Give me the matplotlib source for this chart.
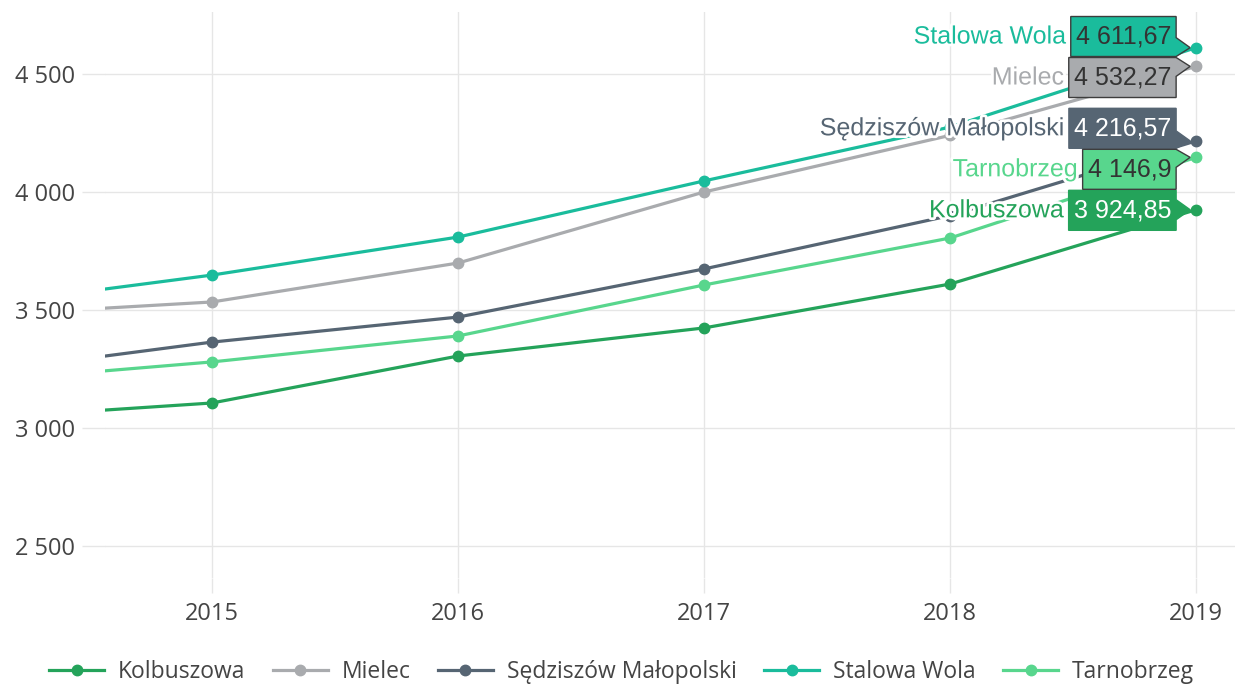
import numpy as np
import matplotlib
matplotlib.use("Agg")
import matplotlib.pyplot as plt
import matplotlib.patheffects as pe
from matplotlib.patches import Polygon
from matplotlib.transforms import IdentityTransform
from matplotlib.lines import Line2D
from matplotlib.ticker import FuncFormatter

# average gross salary by county, PLN
years = [2014, 2015, 2016, 2017, 2018, 2019]
kolbuszowa = [3037, 3106, 3305, 3424, 3610, 3924.85]
mielec = [3474, 3534, 3699, 4000, 4240, 4532.27]
sedziszow = [3228, 3364, 3470, 3674, 3900, 4216.57]
stalowa_wola = [3512, 3648, 3809, 4047, 4275, 4611.67]
tarnobrzeg = [3193, 3280, 3390, 3606, 3805, 4146.9]

names = ["Kolbuszowa", "Mielec", "Sędziszów Małopolski", "Stalowa Wola", "Tarnobrzeg"]
series = [kolbuszowa, mielec, sedziszow, stalowa_wola, tarnobrzeg]
colors = ["#24a35a", "#a9abae", "#566573", "#1abc9c", "#58d68d"]
value_colors = ["white", "#333333", "white", "#333333", "#333333"]
edge_colors = ["#24a35a", "#3d3d3d", "#566573", "#3d3d3d", "#3d3d3d"]

yticks = [2500, 3000, 3500, 4000, 4500]
xticks = [2015, 2016, 2017, 2018, 2019]

W, H = 1243, 686
GRID = "#e6e6e6"
TICKC = "#444444"
sans = ["Open Sans", "DejaVu Sans"]
arial = ["Liberation Sans", "DejaVu Sans"]


def pl_number(v, decimals=2):
    s = f"{v:,.{decimals}f}"
    if decimals:
        s = s.rstrip("0").rstrip(".")
    return s.replace(",", " ").replace(".", ",")


fig = plt.figure(figsize=(W / 100, H / 100), dpi=100)
ax = fig.add_axes([105 / W, (H - 578) / H, 1130 / W, 566 / H])

for vals, c in zip(series, colors):
    ax.plot(years, vals, color=c, lw=2.3, marker="o", ms=7.5, zorder=2,
            solid_capstyle="round")

ax.set_xlim(2014.565, 2019.158)
ax.set_ylim(2364.4, 4762.7)
ax.set_xticks(xticks)
ax.set_yticks(yticks)
ax.yaxis.set_major_formatter(FuncFormatter(lambda v, p: pl_number(v, 0)))
ax.grid(True, color=GRID, lw=1, zorder=0)
ax.set_axisbelow(True)
for s in ax.spines.values():
    s.set_visible(False)
ax.tick_params(axis="y", length=16.5, width=1, color=GRID, pad=5,
               labelsize=17, labelcolor=TICKC)
ax.tick_params(axis="x", length=11, width=1, color=GRID, pad=6,
               labelsize=17, labelcolor=TICKC)
for lab in ax.get_xticklabels() + ax.get_yticklabels():
    lab.set_family(sans)

# legend at the bottom edge
handles = [Line2D([], [], color=c, lw=2.3, marker="o", ms=7.5) for c in colors]
fig.legend(handles, names, loc="center", bbox_to_anchor=(0.5, 14 / H), ncol=5,
           frameon=False, handlelength=2.4, columnspacing=1.2, handletextpad=0.6,
           prop={"family": sans, "size": 16.5}, labelcolor=TICKC)

# end labels: callout boxes with the last value, spread vertically
fig.canvas.draw()
renderer = fig.canvas.get_renderer()
last_x = years[-1]
pts = np.array([ax.transData.transform((last_x, v[-1])) for v in series])
py = pts[:, 1]
gap = 41.0

order = np.argsort(-py)
clusters = []
for i in order:
    clusters.append([[i], py[i]])
    while len(clusters) > 1:
        a, b = clusters[-2], clusters[-1]
        bottom_a = a[1] - gap * (len(a[0]) - 1) / 2
        top_b = b[1] + gap * (len(b[0]) - 1) / 2
        if bottom_a - top_b >= gap:
            break
        members = a[0] + b[0]
        clusters[-2:] = [[members, float(np.mean(py[members]))]]

label_y = np.zeros(len(series))
for members, center in clusters:
    n = len(members)
    for k, j in enumerate(members):
        label_y[j] = center + gap * (n - 1) / 2 - gap * k

pad = 5
half_h = 20
for i, vals in enumerate(series):
    mx, my = pts[i]
    cy = label_y[i]
    x1 = mx - 20
    tip = mx - 6
    t = fig.text(x1 - pad, cy, pl_number(vals[-1]), transform=IdentityTransform(),
                 ha="right", va="center", fontsize=18, family=arial,
                 color=value_colors[i], zorder=6)
    tw = t.get_window_extent(renderer).width
    x0 = x1 - tw - 2 * pad
    y0, y1 = cy - half_h, cy + half_h
    ay = min(max(my, y0 + 1), y1 - 1)
    aw = 10
    verts = [(x0, y0), (x0, y1), (x1, y1), (x1, min(ay + aw, y1)), (tip, ay),
             (x1, max(ay - aw, y0)), (x1, y0)]
    box = Polygon(verts, closed=True, transform=IdentityTransform(),
                  facecolor=colors[i], edgecolor=edge_colors[i], lw=1, zorder=5)
    fig.add_artist(box)
    fig.text(x0 - 5, cy, names[i], transform=IdentityTransform(), ha="right",
             va="center", fontsize=18, family=arial, color=colors[i], zorder=6,
             path_effects=[pe.withStroke(linewidth=4, foreground="white")])

fig.savefig("out.png", dpi=100, facecolor="white")
